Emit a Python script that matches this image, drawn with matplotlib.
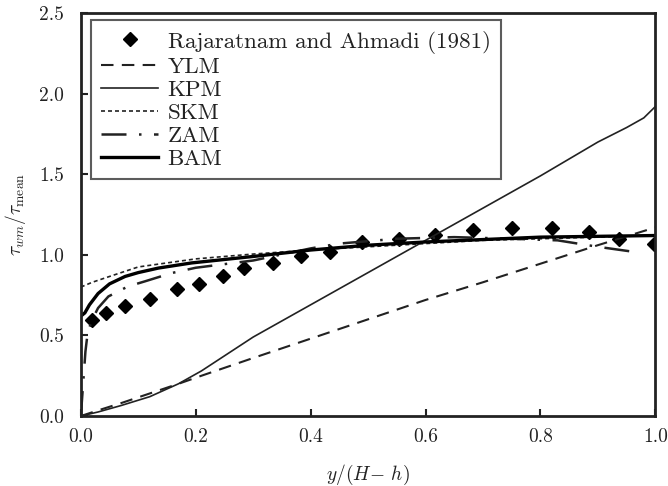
import numpy as np
import matplotlib
matplotlib.use("Agg")
import matplotlib.pyplot as plt

plt.rcParams['font.family'] = ['cmr10', 'DejaVu Serif']
plt.rcParams['mathtext.fontset'] = 'cm'
plt.rcParams['axes.formatter.use_mathtext'] = True

# Rajaratnam and Ahmadi (1981) experimental points
exp_x = [0.020, 0.044, 0.077, 0.120, 0.168, 0.206, 0.247, 0.284, 0.334, 0.384,
         0.434, 0.490, 0.554, 0.617, 0.682, 0.751, 0.820, 0.884, 0.936, 0.997]
exp_y = [0.595, 0.640, 0.684, 0.728, 0.786, 0.821, 0.866, 0.918, 0.950, 0.990,
         1.020, 1.078, 1.100, 1.126, 1.157, 1.167, 1.165, 1.142, 1.099, 1.068]

ylm_x = [0.0, 0.03, 0.07, 0.12, 0.17, 0.21, 0.3, 0.4, 0.5, 0.6, 0.7, 0.8, 0.9, 1.0]
ylm_y = [0.0, 0.035, 0.08, 0.14, 0.20, 0.25, 0.36, 0.48, 0.60, 0.72, 0.83, 0.945, 1.06, 1.17]

kpm_x = [0.0, 0.03, 0.07, 0.12, 0.17, 0.21, 0.3, 0.4, 0.5, 0.6, 0.7, 0.8, 0.9, 0.95, 0.98, 1.0]
kpm_y = [0.0, 0.025, 0.065, 0.12, 0.20, 0.28, 0.49, 0.69, 0.89, 1.09, 1.29, 1.49, 1.70, 1.79, 1.85, 1.92]

skm_x = [0.0, 0.02, 0.05, 0.1, 0.2, 0.3, 0.4, 0.5, 0.6, 0.7, 0.8, 0.9, 1.0]
skm_y = [0.80, 0.83, 0.866, 0.925, 0.975, 1.005, 1.03, 1.05, 1.07, 1.09, 1.10, 1.11, 1.12]

zam_x = [0.0, 0.004, 0.008, 0.012, 0.02, 0.03, 0.048, 0.082, 0.111, 0.158, 0.2, 0.3,
         0.4, 0.45, 0.55, 0.65, 0.75, 0.83, 0.9, 0.96]
zam_y = [0.0, 0.2, 0.4, 0.52, 0.60, 0.67, 0.742, 0.804, 0.835, 0.887, 0.92, 0.965,
         1.04, 1.07, 1.10, 1.11, 1.10, 1.09, 1.05, 1.02]

bam_x = [0.0, 0.007, 0.015, 0.03, 0.05, 0.077, 0.1, 0.135, 0.193, 0.3, 0.4, 0.5,
         0.6, 0.7, 0.8, 0.9, 1.0]
bam_y = [0.62, 0.64, 0.69, 0.76, 0.82, 0.866, 0.89, 0.918, 0.95, 0.99, 1.03, 1.06,
         1.08, 1.095, 1.11, 1.115, 1.12]

ink = '#222222'

fig = plt.figure(figsize=(6.68, 4.86), dpi=100)
ax = fig.add_axes([0.121, 0.144, 0.860, 0.829])

ax.plot(exp_x, exp_y, 'D', color='black', ms=7, label='Rajaratnam and Ahmadi (1981)')
ax.plot(ylm_x, ylm_y, color=ink, lw=1.5, dashes=(6, 4), label='YLM')
ax.plot(kpm_x, kpm_y, color=ink, lw=1.2, label='KPM')
ax.plot(skm_x, skm_y, color=ink, lw=1.2, dashes=(2.4, 1.8), label='SKM')
ax.plot(zam_x, zam_y, color=ink, lw=1.8, dashes=(10, 5, 1, 5), label='ZAM')
ax.plot(bam_x, bam_y, color='black', lw=2.4, label='BAM')

ax.set_xlim(0, 1.0)
ax.set_ylim(0, 2.5)
ax.set_xticks([0.0, 0.2, 0.4, 0.6, 0.8, 1.0])
ax.set_yticks([0.0, 0.5, 1.0, 1.5, 2.0, 2.5])
ax.xaxis.set_major_formatter(matplotlib.ticker.FormatStrFormatter('%.1f'))
ax.yaxis.set_major_formatter(matplotlib.ticker.FormatStrFormatter('%.1f'))
ax.tick_params(direction='in', length=5, width=1.5, labelsize=14, colors=ink,
               top=False, right=False)
ax.tick_params(axis='x', pad=9)
ax.tick_params(axis='y', pad=12)
for s in ax.spines.values():
    s.set_linewidth(2)
    s.set_color(ink)

ax.set_xlabel(r'$y/(H\!-\,h)$', fontsize=14, color=ink, labelpad=12)
ax.set_ylabel(r'$\tau_{wm}/\tau_{\rm mean}$', fontsize=14, color=ink, labelpad=8)

leg = ax.legend(loc='upper left', bbox_to_anchor=(0.017, 0.982),
                prop={'family': ['cmr10', 'DejaVu Serif'], 'size': 16.6},
                frameon=True, fancybox=False, handlelength=2.5, handletextpad=0.4,
                labelspacing=0.13, borderpad=0.44, borderaxespad=0.0)
leg.get_frame().set_edgecolor('#333333')
leg.get_frame().set_linewidth(1.5)
for t in leg.get_texts():
    t.set_color(ink)

fig.savefig('out.png', dpi=100)
